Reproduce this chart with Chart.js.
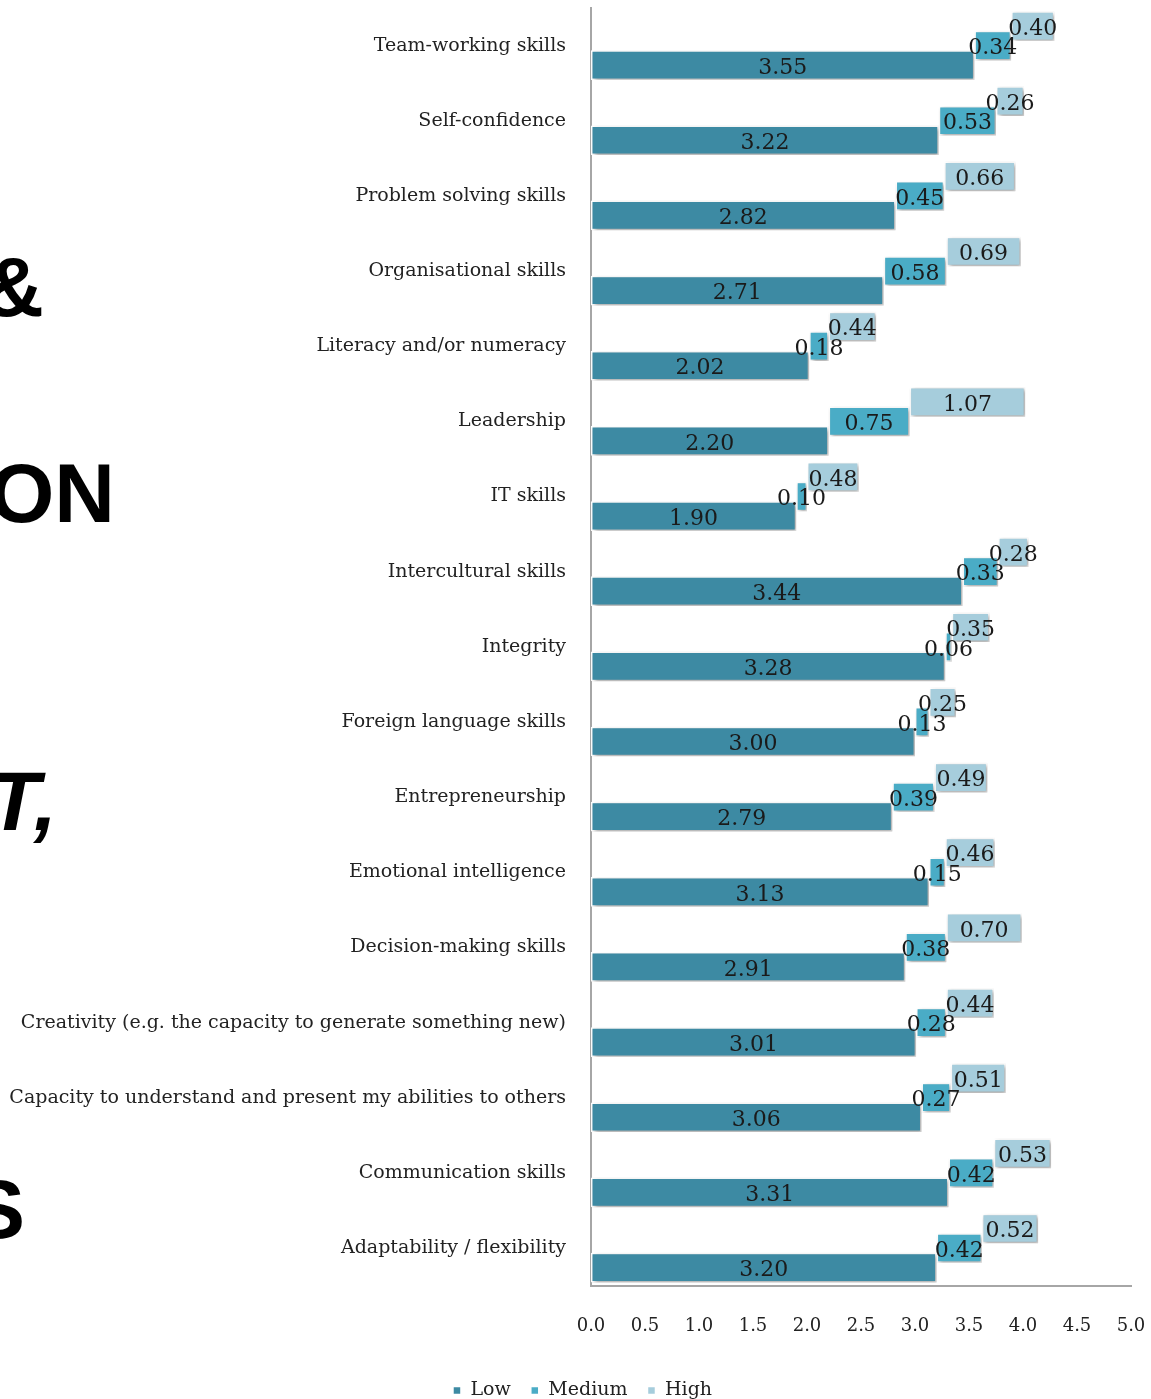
<!DOCTYPE html>
<html>
<head>
<meta charset="utf-8">
<script src="https://cdn.jsdelivr.net/npm/chart.js@4.4.1/dist/chart.umd.min.js"></script>
<style>
  html, body { margin: 0; padding: 0; background: #fff; }
  #page { position: relative; width: 1151px; height: 1399px; overflow: hidden; }
  .frag {
    position: absolute;
    font-family: "Liberation Sans", Arial, sans-serif;
    font-weight: bold;
    font-size: 84px;
    line-height: 84px;
    color: #000;
    white-space: nowrap;
  }
  canvas { position: absolute; left: 0; top: 0; }
</style>
</head>
<body>
<div id="page">
  <!-- pieces of the slide title, cut off by the left edge -->
  <div class="frag" style="top:245px; right:1107px;">&amp;</div>
  <div class="frag" style="top:451px; right:1036px;">ON</div>
  <div class="frag" style="top:759px; right:1094px; font-style:italic;">T,</div>
  <div class="frag" style="top:1167px; right:1126px;">S</div>
  <canvas id="chart" width="1151" height="1399"></canvas>
</div>

<script>
const categories = [
  "Team-working skills",
  "Self-confidence",
  "Problem solving skills",
  "Organisational skills",
  "Literacy and/or numeracy",
  "Leadership",
  "IT skills",
  "Intercultural skills",
  "Integrity",
  "Foreign language skills",
  "Entrepreneurship",
  "Emotional intelligence",
  "Decision-making skills",
  "Creativity (e.g. the capacity to generate something new)",
  "Capacity to understand and present my abilities to others",
  "Communication skills",
  "Adaptability / flexibility"
];

const lowValues = [3.55, 3.22, 2.82, 2.71, 2.02, 2.20, 1.90, 3.44, 3.28, 3.00, 2.79, 3.13, 2.91, 3.01, 3.06, 3.31, 3.20];
const mediumValues = [0.34, 0.53, 0.45, 0.58, 0.18, 0.75, 0.10, 0.33, 0.06, 0.13, 0.39, 0.15, 0.38, 0.28, 0.27, 0.42, 0.42];
const highValues = [0.40, 0.26, 0.66, 0.69, 0.44, 1.07, 0.48, 0.28, 0.35, 0.25, 0.49, 0.46, 0.70, 0.44, 0.51, 0.53, 0.52];

const xTickLabels = ["0.0", "0.5", "1.0", "1.5", "2.0", "2.5", "3.0", "3.5", "4.0", "4.5", "5.0"];

const serif = "'DejaVu Serif', 'Liberation Serif', serif";

// each segment starts where the previous one ends (floating bars)
const lowBars = lowValues.map(v => [0, v]);
const mediumBars = mediumValues.map((v, i) => [lowValues[i], lowValues[i] + v]);
const highBars = highValues.map((v, i) => [lowValues[i] + mediumValues[i], lowValues[i] + mediumValues[i] + v]);
const rawValues = { Low: lowValues, Medium: mediumValues, High: highValues };

// soft drop shadow under the bars
const shadowPlugin = {
  id: "barShadow",
  beforeDatasetsDraw(chart) {
    const ctx = chart.ctx;
    ctx.save();
    ctx.shadowColor = "rgba(0,0,0,0.35)";
    ctx.shadowBlur = 4;
    ctx.shadowOffsetX = 2;
    ctx.shadowOffsetY = 2;
  },
  afterDatasetsDraw(chart) {
    chart.ctx.restore();
  }
};

// value text inside every bar segment
const valueLabels = {
  id: "valueLabels",
  afterDatasetsDraw(chart) {
    const ctx = chart.ctx;
    ctx.save();
    ctx.font = "22px " + serif;
    ctx.fillStyle = "#1a1a1a";
    ctx.textAlign = "center";
    ctx.textBaseline = "middle";
    chart.data.datasets.forEach((ds, di) => {
      const meta = chart.getDatasetMeta(di);
      const vals = rawValues[ds.label];
      meta.data.forEach((bar, i) => {
        const x = (bar.x + bar.base) / 2;
        ctx.fillText(vals[i].toFixed(2), x, bar.y + 3);
      });
    });
    ctx.restore();
  }
};

// nudge the legend a bit right, like the original
const legendShift = {
  id: "legendShift",
  afterLayout(chart) {
    if (chart.legend) chart.legend.left += 34;
  }
};

new Chart(document.getElementById("chart"), {
  type: "bar",
  data: {
    labels: categories,
    // High first so it sits on top inside each group
    datasets: [
      { label: "High", data: highBars, backgroundColor: "#a6cddc" },
      { label: "Medium", data: mediumBars, backgroundColor: "#4aacc6" },
      { label: "Low", data: lowBars, backgroundColor: "#3d8aa3" }
    ]
  },
  options: {
    indexAxis: "y",
    responsive: false,
    animation: false,
    devicePixelRatio: 1,
    categoryPercentage: 0.78,
    barPercentage: 1.52,
    grouped: true,
    elements: {
      bar: { borderColor: "#ffffff", borderWidth: 1.5, borderSkipped: false }
    },
    layout: { padding: { top: 8, right: 20, left: 0, bottom: -11 } },
    scales: {
      x: {
        min: 0,
        max: 5,
        ticks: {
          stepSize: 0.5,
          padding: 0,
          color: "#222",
          font: { family: serif, size: 18, lineHeight: 3.8 },
          callback: (v, i) => xTickLabels[i]
        },
        grid: { display: false, drawTicks: true, tickLength: 7 },
        border: { color: "#a6a6a6", width: 2 }
      },
      y: {
        afterFit(scale) { scale.width = 591; },
        ticks: {
          padding: 0,
          color: "#222",
          font: { family: serif, size: 19, lineHeight: 0.8 }
        },
        grid: { display: false, drawTicks: true, tickLength: 25 },
        border: { color: "#a6a6a6", width: 2 }
      }
    },
    plugins: {
      legend: {
        position: "bottom",
        reverse: true,
        labels: {
          boxWidth: 8,
          boxHeight: 8,
          padding: 20,
          color: "#222",
          font: { family: serif, size: 19 }
        }
      },
      tooltip: { enabled: false }
    }
  },
  plugins: [shadowPlugin, valueLabels, legendShift]
});
</script>
</body>
</html>
